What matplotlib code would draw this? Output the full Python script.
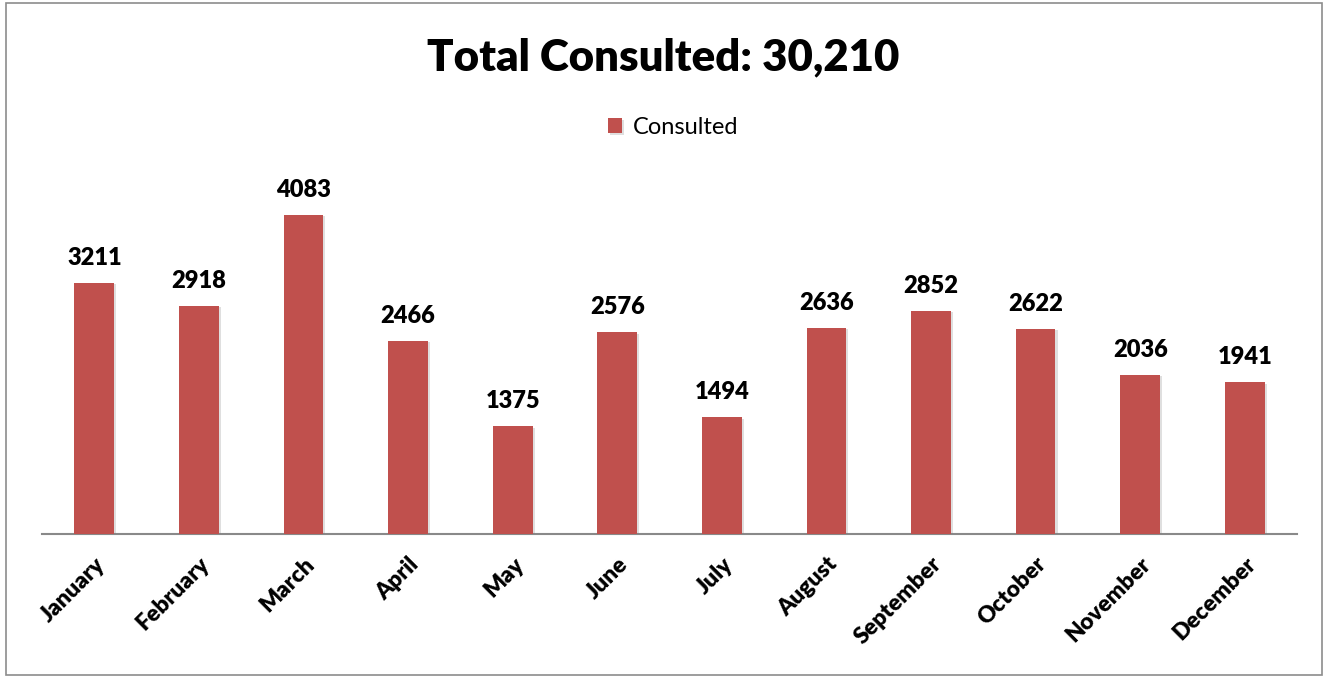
import matplotlib.pyplot as plt
from matplotlib.patches import Rectangle
import matplotlib.patheffects as pe

months = ["January", "February", "March", "April", "May", "June", "July",
          "August", "September", "October", "November", "December"]
consulted = [3211, 2918, 4083, 2466, 1375, 2576, 1494, 2636, 2852, 2622, 2036, 1941]

plt.rcParams['font.family'] = ['Lato', 'DejaVu Sans']

fig = plt.figure(figsize=(13.27, 6.78), dpi=100)
ax = fig.add_axes([0.0317, 0.2124, 0.9457, 0.5192])

bar_color = "#C0504D"
x = list(range(len(months)))
bars = ax.bar(x, consulted, width=0.38, color=bar_color, label="Consulted", zorder=3,
              path_effects=[pe.SimplePatchShadow(offset=(1.5, -1), shadow_rgbFace="gray", alpha=0.25),
                            pe.Normal()])

# value labels over each bar
for xi, v in zip(x, consulted):
    ax.text(xi, v + 180, str(v), ha="center", va="bottom", fontsize=17, fontweight="heavy")

ax.set_xlim(-0.5, 11.5)
ax.set_ylim(0, 4500)
ax.set_xticks(x)
ax.set_xticklabels(months, rotation=45, ha="right", rotation_mode="anchor",
                   fontsize=16.5, fontweight="heavy")
ax.tick_params(axis="x", length=0, pad=14)
ax.set_yticks([])
for side in ["top", "right", "left"]:
    ax.spines[side].set_visible(False)
ax.spines["bottom"].set_color("#898989")
ax.spines["bottom"].set_linewidth(1.5)

fig.text(0.5, 0.915, "Total Consulted: 30,210", ha="center", va="center",
         fontsize=31.5, fontweight="heavy")
fig.legend(handles=[bars], labels=["Consulted"], loc="center", bbox_to_anchor=(0.507, 0.812),
           frameon=False, fontsize=17, handlelength=0.6, handleheight=0.6, handletextpad=0.45)

# outer border of the chart area
fig.patches.append(Rectangle((6 / 1327, 3 / 678), 1316 / 1327, 672 / 678, transform=fig.transFigure,
                             fill=False, edgecolor="#8C8C8C", linewidth=1.2))

plt.savefig("out.png", dpi=100)
